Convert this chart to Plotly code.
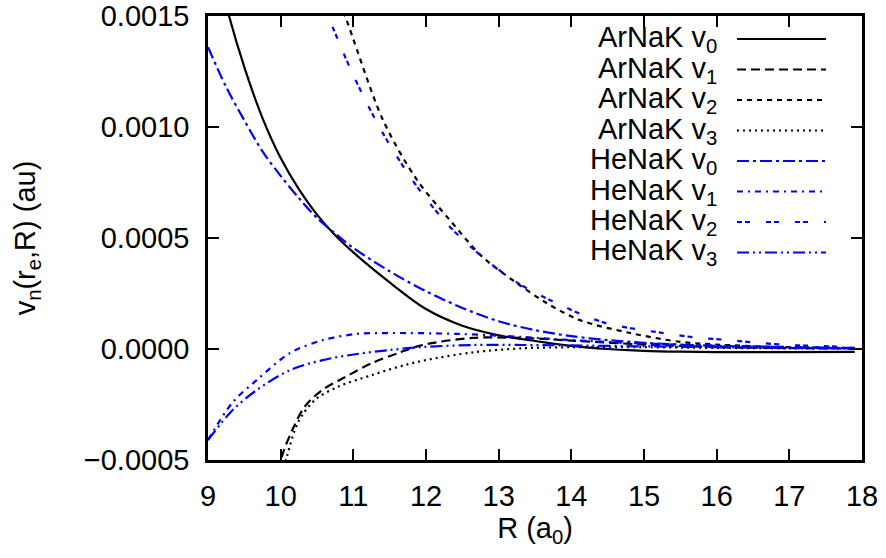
import plotly.graph_objects as go

# --- potential curves v_n(r_e, R), R in bohr, v in hartree ---
ar_v0_R = [9.0, 9.29, 9.5, 9.75, 10.0, 10.25, 10.5, 10.75, 11.0, 11.5, 12.0, 12.5, 13.0, 13.5, 14.0, 14.5, 15.0,
           15.5, 16.0, 17.0, 17.9]
ar_v0_V = [0.0019, 0.0015, 0.00127, 0.00104, 0.00086, 0.00072, 0.000605, 0.000512, 0.000435, 0.0003, 0.00018,
           0.000105, 0.000062, 0.000036, 0.000014, 0.0, -0.000008, -0.000012, -0.000014, -0.000014, -0.000013]

ar_v1_R = [9.96, 10.03, 10.16, 10.33, 10.57, 10.89, 11.26, 11.62, 11.95, 12.65, 13.3, 14.0, 15.0, 16.0, 17.0, 17.9]
ar_v1_V = [-0.00055, -0.00047, -0.000365, -0.00026, -0.000185, -0.000126, -0.000063, -0.000018, 0.000018, 0.00005,
           0.00005, 0.000038, 0.00002, 0.000009, 0.000004, 0.000002]

ar_v2_R = [10.8, 10.885, 11.41, 11.88, 12.33, 12.78, 13.25, 13.66, 14.12, 14.81, 15.5, 16.0, 17.0, 17.9]
ar_v2_V = [0.00156, 0.0015, 0.00103, 0.00076, 0.00058, 0.000414, 0.000297, 0.000207, 0.00013, 0.000072, 0.000032,
           0.00002, 0.000008, 0.000004]

ar_v3_R = [10.03, 10.09, 10.24, 10.47, 10.79, 11.26, 11.71, 12.0, 12.65, 13.33, 14.0, 15.0, 16.0, 17.0, 17.9]
ar_v3_V = [-0.00056, -0.00048, -0.00033, -0.00023, -0.00017, -0.000117, -0.000072, -0.00005, -0.000015, 0.000003,
           0.000008, 0.000008, 0.000005, 0.000003, 0.000002]

he_v0_R = [9.0, 9.25, 9.5, 9.75, 10.0, 10.25, 10.5, 10.75, 11.0, 11.5, 12.0, 12.5, 13.0, 13.5, 14.0, 14.5, 15.0,
           15.5, 16.5, 17.9]
he_v0_V = [0.00136, 0.00118, 0.00103, 0.00089, 0.00078, 0.00068, 0.00059, 0.00052, 0.000455, 0.00035, 0.00026,
           0.000185, 0.000125, 0.000085, 0.000058, 0.00004, 0.000028, 0.00002, 0.00001, 0.000005]

he_v1_R = [9.0, 9.34, 9.67, 10.13, 10.58, 11.05, 11.5, 12.43, 13.33, 14.0, 15.0, 16.0, 17.0, 17.9]
he_v1_V = [-0.00041, -0.00024, -0.00014, -0.000018, 0.00004, 0.000068, 0.000072, 0.000068, 0.000054, 0.00004,
           0.000025, 0.000015, 0.000009, 0.000005]

he_v2_R = [10.55, 10.65, 10.99, 11.41, 11.88, 12.33, 12.78, 13.25, 13.71, 14.44, 15.26, 15.77, 16.18, 16.6, 17.0,
           17.42, 17.83]
he_v2_V = [0.00157, 0.0015, 0.00124, 0.00097, 0.00073, 0.00055, 0.000414, 0.0003, 0.00022, 0.00012, 0.000072,
           0.00005, 0.00004, 0.000027, 0.000018, 0.0000135, 0.000009]

he_v3_R = [9.0, 9.34, 9.67, 10.13, 10.58, 11.05, 11.5, 11.96, 12.65, 13.33, 14.0, 15.0, 16.0, 17.0, 17.9]
he_v3_V = [-0.00041, -0.000275, -0.000185, -0.000095, -0.00005, -0.0000225, -0.0000045, 0.000009, 0.000018,
           0.000018, 0.000016, 0.000012, 0.000008, 0.000005, 0.000003]

series_names = ["ArNaK v<sub>0</sub>", "ArNaK v<sub>1</sub>", "ArNaK v<sub>2</sub>", "ArNaK v<sub>3</sub>",
                "HeNaK v<sub>0</sub>", "HeNaK v<sub>1</sub>", "HeNaK v<sub>2</sub>", "HeNaK v<sub>3</sub>"]
series_R = [ar_v0_R, ar_v1_R, ar_v2_R, ar_v3_R, he_v0_R, he_v1_R, he_v2_R, he_v3_R]
series_V = [ar_v0_V, ar_v1_V, ar_v2_V, ar_v3_V, he_v0_V, he_v1_V, he_v2_V, he_v3_V]

x_ticks = [9, 10, 11, 12, 13, 14, 15, 16, 17, 18]
y_ticks = [-0.0005, 0.0, 0.0005, 0.0010, 0.0015]
y_tick_text = ["\u22120.0005", "0.0000", "0.0005", "0.0010", "0.0015"]

# line styles (gnuplot-like dash patterns)
colors = ["black"] * 4 + ["#0000ff"] * 4
dashes = ["solid", "9px,5px", "5px,5px", "2px,4px",
          "12px,4px,3px,4px", "6px,5px,2px,5px", "5px,3px,5px,16px", "12px,4px,2px,4px,2px,4px"]

FONT = "Liberation Sans, Arial, sans-serif"
FS = 29

fig = go.Figure()
for name, R, V, c, d in zip(series_names, series_R, series_V, colors, dashes):
    fig.add_trace(go.Scatter(x=R, y=V, mode="lines", name=name, showlegend=False,
                             line=dict(color=c, width=2.2, dash=d, shape="spline", smoothing=0.9)))

# legend block: label on the left, line sample on the right
L, T, W, H = 208, 16, 654, 444
leg_y0, leg_dy = 39, 30.5
for i, (name, c, d) in enumerate(zip(series_names, colors, dashes)):
    py = leg_y0 + i * leg_dy
    yp = (T + H - py) / H
    fig.add_shape(type="line", xref="paper", yref="paper",
                  x0=(737 - L) / W, x1=(826 - L) / W, y0=yp, y1=yp,
                  line=dict(color=c, width=2.2, dash=d))
    fig.add_annotation(xref="paper", yref="paper", x=(719 - L) / W, y=yp,
                       xanchor="right", yanchor="middle", text=name, showarrow=False,
                       font=dict(family=FONT, size=FS, color="black"))

axis_common = dict(showline=True, linecolor="black", linewidth=2.5, mirror="ticks",
                   ticks="inside", ticklen=11, tickwidth=2, tickcolor="black",
                   showgrid=False, zeroline=False, automargin=False,
                   tickfont=dict(family=FONT, size=FS, color="black"))

fig.update_layout(
    width=886, height=558,
    margin=dict(l=L, r=886 - L - W, t=T, b=558 - T - H, autoexpand=False),
    paper_bgcolor="white", plot_bgcolor="white",
    font=dict(family=FONT, size=FS, color="black"),
    xaxis=dict(range=[9, 18], tickvals=x_ticks, ticklabelstandoff=8,
               title=dict(text="R (a<sub>0</sub>)", font=dict(family=FONT, size=FS), standoff=6),
               **axis_common),
    yaxis=dict(range=[-0.0005, 0.0015], tickvals=y_ticks, ticktext=y_tick_text, ticklabelstandoff=10,
               title=dict(text="v<sub>n</sub>(r<sub>e</sub>,R) (au)", font=dict(family=FONT, size=FS),
                          standoff=40),
               **axis_common),
)

fig.write_html("out.html")
